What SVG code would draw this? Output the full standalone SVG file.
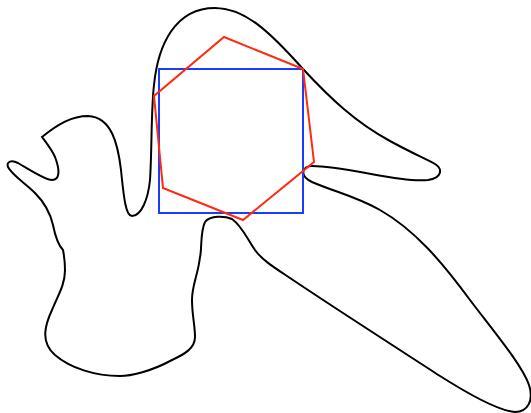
<svg xmlns="http://www.w3.org/2000/svg" width="531" height="413" viewBox="0 0 531 413">
<style>
.blob{fill:none;stroke:#000;stroke-width:2}
.sq{fill:none;stroke:#1a3cff;stroke-width:2}
.hex{fill:none;stroke:#ff2a0f;stroke-width:2}
</style>
<rect width="531" height="413" fill="#fff"/>
<path class="blob" d="M 42,137 C 58,124 72,116 88,116 C 112,117 118,145 121,170 C 124,200 126,216 132,216 C 141,216 148,200 150,180 C 152,150 151,110 154,85 C 158,45 175,8 215,8 C 245,8 270,32 303,69 C 330,98 355,122 390,141 C 410,152 428,160 435,164 C 443,169 442,178 428,180 C 400,183 345,166 312,166 C 302,166 299,176 312,182 C 335,192 355,196 380,210 C 415,230 442,262 470,300 C 495,333 522,365 529,385 C 534,400 528,412 515,412 C 500,411 470,395 440,376 C 400,350 330,305 290,278 C 275,268 262,260 255,250 C 248,240 242,226 232,219 C 225,216 210,215 205,222 C 200,232 202,250 200,257 C 198,275 192,285 192,300 C 192,315 195,325 195,337 C 195,348 185,354 172,360 C 150,372 130,376 120,376 C 95,376 70,368 55,355 C 40,342 45,325 52,310 C 58,295 65,285 65,270 C 65,262 64,255 63,250 C 58,245 55,235 53,225 C 50,212 42,200 35,193 C 25,183 12,175 8,167 C 6,161 12,160 18,163 C 30,170 45,180 52,180 C 60,180 60,170 55,157 C 52,150 48,145 42,137 Z"/>
<rect class="sq" x="159" y="69" width="144" height="144"/>
<polygon class="hex" points="224,37 303,69 314,162 243,220 163,188 154,96"/>
</svg>
